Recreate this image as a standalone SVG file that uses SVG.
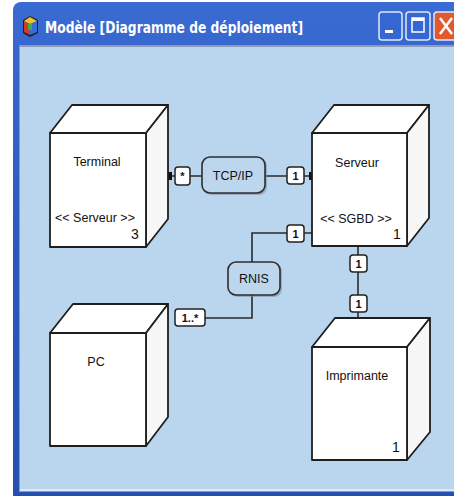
<svg xmlns="http://www.w3.org/2000/svg" width="454" height="496" viewBox="0 0 454 496">
<defs>
<linearGradient id="tb" x1="0" y1="0" x2="0" y2="1">
<stop offset="0" stop-color="#3a6bd2"/>
<stop offset="0.5" stop-color="#2b58c0"/>
<stop offset="1" stop-color="#244fb2"/>
</linearGradient>
<style>
.face{fill:#ffffff;stroke:#1e1e1e;stroke-width:1.8;stroke-linejoin:round}
.side{fill:#f7f7f7;stroke:#1e1e1e;stroke-width:1.8;stroke-linejoin:round}
.name{font-family:"Liberation Sans",Arial,sans-serif;font-size:12.5px;fill:#111;text-anchor:middle}
.st{font-family:"Liberation Sans",Arial,sans-serif;font-size:12.5px;fill:#111;text-anchor:middle}
.mult{font-family:"Liberation Sans",Arial,sans-serif;font-size:14px;fill:#111}
.conn{fill:none;stroke:#2a2a2a;stroke-width:1.6}
.lbl{fill:#ffffff;stroke:#222;stroke-width:1.5}
.lt{font-family:"Liberation Sans",Arial,sans-serif;font-size:11px;font-weight:bold;fill:#111;text-anchor:middle}
.net{fill:#bcd6ee;stroke:#2e2e2e;stroke-width:1.6}
.nt{font-family:"Liberation Sans",Arial,sans-serif;font-size:12.5px;fill:#111;text-anchor:middle}
.btn{stroke:#dfe8fb;stroke-width:1.5}
</style>
</defs>

<!-- window frame -->
<g id="window">
<rect x="0" y="0" width="454" height="496" fill="#ffffff"/>
<rect x="13" y="2" width="460" height="500" rx="8" fill="url(#tb)"/>
<rect x="19" y="45" width="440" height="447" fill="#8e9bb2"/>
<rect x="20" y="47" width="440" height="443" fill="#bad5ee"/>
<rect x="20" y="489" width="440" height="2" fill="#dce8f5"/>
<g id="icon">
<polygon points="23,20 30,16 38,20 38,33 30,37 23,33" fill="#222"/>
<polygon points="24,21 30,24 30,35 24,32" fill="#d0392b"/>
<polygon points="30,24 37,21 37,32 30,35" fill="#2f6fd6"/>
<polygon points="24,21 30,17 37,21 30,24" fill="#f2c230"/>
<rect x="28" y="24" width="4" height="6" fill="#3cae4a"/>
</g>
<text x="45" y="33" font-family="'DejaVu Sans',Verdana,sans-serif" font-size="16" font-weight="bold" fill="#ffffff" textLength="258" lengthAdjust="spacingAndGlyphs">Modèle [Diagramme de déploiement]</text>
<g id="buttons">
<rect class="btn" x="379" y="12" width="23" height="28" rx="3" fill="#3466d4"/>
<rect x="385" y="30" width="8" height="3" fill="#ffffff"/>
<rect class="btn" x="406" y="12" width="24" height="28" rx="3" fill="#3466d4"/>
<rect x="412" y="18" width="12" height="14" fill="none" stroke="#ffffff" stroke-width="1.5"/>
<rect x="412" y="18" width="12" height="3" fill="#ffffff"/>
<rect class="btn" x="434" y="12" width="26" height="28" rx="3" fill="#e05a2e"/>
<path d="M440,18 L452,34 M452,18 L440,34" stroke="#ffffff" stroke-width="2.5"/>
</g>
</g>

<!-- connectors -->
<g id="connectors">
<line class="conn" x1="172" y1="176" x2="309" y2="176"/>
<rect x="166" y="172" width="6" height="8" fill="#111"/>
<rect x="309" y="172" width="6" height="8" fill="#111"/>
<polyline class="conn" points="312,233 252,233 252,318 205,318"/>
<line class="conn" x1="358" y1="246" x2="358" y2="318"/>
</g>

<!-- node Terminal -->
<g id="node-terminal">
<polygon class="face" points="50,133 72,105 168,105 146,133"/>
<polygon class="side" points="146,133 168,105 168,219 146,247"/>
<rect class="face" x="50" y="133" width="96" height="114"/>
<text class="name" x="97" y="166">Terminal</text>
<text class="st" x="95" y="222">&lt;&lt; Serveur &gt;&gt;</text>
<text class="mult" x="131" y="239">3</text>
</g>

<!-- node Serveur -->
<g id="node-serveur">
<polygon class="face" points="312,133 334,105 429,105 407,133"/>
<polygon class="side" points="407,133 429,105 429,218 407,246"/>
<rect class="face" x="312" y="133" width="95" height="113"/>
<text class="name" x="357" y="167">Serveur</text>
<text class="st" x="356" y="223">&lt;&lt; SGBD &gt;&gt;</text>
<text class="mult" x="393" y="239">1</text>
</g>

<!-- node PC -->
<g id="node-pc">
<polygon class="face" points="50,333 73,304 168,304 146,333"/>
<polygon class="side" points="146,333 168,304 168,417 146,446"/>
<rect class="face" x="50" y="333" width="96" height="113"/>
<text class="name" x="96" y="366">PC</text>
</g>

<!-- node Imprimante -->
<g id="node-imprimante">
<polygon class="face" points="312,347 335,318 430,318 407,347"/>
<polygon class="side" points="407,347 430,318 430,432 407,460"/>
<rect class="face" x="312" y="347" width="95" height="113"/>
<text class="name" x="357" y="380">Imprimante</text>
<text class="mult" x="392" y="452">1</text>
</g>

<!-- network nodes -->
<g id="node-tcpip">
<rect x="204" y="159" width="63" height="36" rx="8" fill="#7d8fa6" opacity="0.6"/>
<rect class="net" x="202" y="157" width="63" height="36" rx="8"/>
<text class="nt" x="233" y="180">TCP/IP</text>
</g>
<g id="node-rnis">
<rect x="230" y="264" width="52" height="33" rx="8" fill="#7d8fa6" opacity="0.6"/>
<rect class="net" x="228" y="262" width="52" height="33" rx="8"/>
<text class="nt" x="254" y="283">RNIS</text>
</g>

<!-- multiplicity labels -->
<g id="labels">
<rect class="lbl" x="175" y="167" width="15" height="18" rx="3"/>
<text class="lt" x="182.5" y="180">*</text>
<rect class="lbl" x="287" y="167" width="17" height="17" rx="3"/>
<text class="lt" x="295.5" y="180">1</text>
<rect class="lbl" x="287" y="225" width="17" height="17" rx="3"/>
<text class="lt" x="295.5" y="238">1</text>
<rect class="lbl" x="175" y="309" width="30" height="17" rx="3"/>
<text class="lt" x="190" y="322">1..*</text>
<rect class="lbl" x="350" y="255" width="17" height="17" rx="3"/>
<text class="lt" x="358.5" y="268">1</text>
<rect class="lbl" x="350" y="295" width="17" height="17" rx="3"/>
<text class="lt" x="358.5" y="308">1</text>
</g>
</svg>
